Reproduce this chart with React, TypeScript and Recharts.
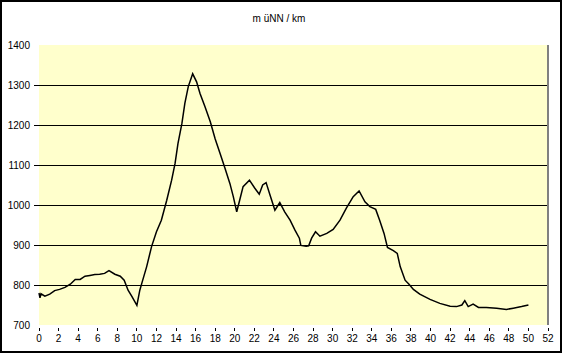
import {
    CartesianGrid,
    Line,
    LineChart,
    ReferenceLine,
    XAxis,
    YAxis,
} from "recharts";

// distance (km) and height (m above sea level)
const km = [
    0, 0.1, 0.2, 0.6, 1.1, 1.6, 2.1, 2.65, 3.2, 3.7, 4.2, 4.7, 5.2, 5.7, 6.2, 6.7,
    7.15, 7.75, 8.3, 8.7, 9.1, 9.5, 10.0, 10.3, 10.5, 11, 11.5, 12, 12.5, 13.05,
    13.55, 13.9, 14.2, 14.6, 14.9, 15.25, 15.7, 16.1, 16.45, 16.95, 17.5, 18,
    18.5, 19, 19.5, 19.85, 20.2, 20.5, 20.85, 21.5, 22.05, 22.5, 22.85, 23.2,
    23.6, 24.1, 24.6, 25.1, 25.65, 26.15, 26.6, 26.75, 27.3, 27.55, 27.85, 28.25,
    28.7, 29.4, 30.05, 30.75, 31.4, 32.1, 32.7, 33.3, 33.8, 34.4, 34.8, 35.25,
    35.6, 36.2, 36.6, 36.9, 37.4, 37.8, 38.25, 38.9, 39.95, 40.95, 42, 42.65,
    43.2, 43.5, 43.85, 44.35, 44.9, 45.7, 46.75, 47.75, 48.45, 49.3, 50,
];
const height = [
    780, 768, 778, 772, 777, 786, 789, 794, 802, 814, 814, 822, 824, 826, 827, 829,
    836, 827, 822, 812, 787, 771, 749, 787, 804, 846, 896, 933, 962, 1012,
    1062, 1104, 1154, 1204, 1254, 1296, 1328, 1308, 1279, 1246, 1208, 1165,
    1129, 1092, 1054, 1021, 983, 1012, 1046, 1062, 1042, 1027, 1050, 1056,
    1025, 987, 1006, 983, 962, 937, 917, 899, 897, 898, 917, 933,
    922, 929, 939, 962, 992, 1021, 1035, 1008, 996, 989, 962, 929,
    894, 886, 879, 846, 812, 802, 789, 777, 764, 754, 747, 746,
    750, 761, 746, 752, 744, 744, 742, 739, 742, 746, 750,
];

const xTicks = Array.from({ length: 27 }, (_, i) => i * 2);
const yTicks = [700, 800, 900, 1000, 1100, 1200, 1300, 1400];
const gridValues = [800, 900, 1000, 1100, 1200, 1300];

const chartData = km.map((k, i) => ({ km: k, hm: height[i] }));

const FONT = "'Liberation Sans', Arial, sans-serif";

function XTick(props: any) {
    const { x, y, payload } = props;
    return (
        <g>
            <line x1={x} x2={x} y1={y + 3} y2={y + 6} stroke="#000" shapeRendering="crispEdges" />
            <text x={x} y={y + 17} textAnchor="middle" fontSize={10} fontFamily={FONT} fill="#000">
                {payload.value}
            </text>
        </g>
    );
}

function YTick(props: any) {
    const { x, y, payload } = props;
    const inner = gridValues.includes(payload.value);
    return (
        <g>
            {inner && (
                <line x1={x - 5} x2={x} y1={y} y2={y} stroke="#000" shapeRendering="crispEdges" />
            )}
            <text x={x - 9} y={y + 3.5} textAnchor="end" fontSize={10} fontFamily={FONT} fill="#000">
                {payload.value}
            </text>
        </g>
    );
}

export default function App() {
    return (
        <div style={{ position: "absolute", left: 0, top: 0, width: 562, height: 353, background: "#fff" }}>
            <LineChart
                width={562}
                height={353}
                data={chartData}
                margin={{ top: 45, right: 14, bottom: 0, left: 0 }}
            >
                <CartesianGrid
                    horizontal={false}
                    vertical={false}
                    fill="#FFFFCC"
                    fillOpacity={1}
                    stroke="none"
                />
                <XAxis
                    dataKey="km"
                    type="number"
                    domain={[0, 52]}
                    ticks={xTicks}
                    interval={0}
                    height={28}
                    axisLine={false}
                    tickLine={false}
                    tickSize={0}
                    tickMargin={0}
                    tick={<XTick />}
                />
                <YAxis
                    type="number"
                    domain={[700, 1400]}
                    ticks={yTicks}
                    interval={0}
                    width={39}
                    axisLine={false}
                    tickLine={false}
                    tickSize={0}
                    tickMargin={0}
                    tick={<YTick />}
                />
                {gridValues.map(v => (
                    <ReferenceLine
                        key={v}
                        y={v}
                        stroke="#000"
                        strokeWidth={1}
                        shapeRendering="crispEdges"
                    />
                ))}
                <ReferenceLine x={52} stroke="#808080" strokeWidth={2} shapeRendering="crispEdges" />
                <Line
                    type="linear"
                    dataKey="hm"
                    stroke="#000"
                    strokeWidth={1.5}
                    dot={false}
                    isAnimationActive={false}
                />
            </LineChart>
            <div
                style={{
                    position: "absolute",
                    left: 0,
                    top: 13,
                    width: 562,
                    textAlign: "center",
                    fontFamily: FONT,
                    fontSize: 10,
                    paddingRight: 4,
                    boxSizing: "border-box",
                }}
            >
                m üNN / km
            </div>
            <div
                style={{
                    position: "absolute",
                    inset: 0,
                    border: "2px solid #000",
                    pointerEvents: "none",
                }}
            />
        </div>
    );
}
